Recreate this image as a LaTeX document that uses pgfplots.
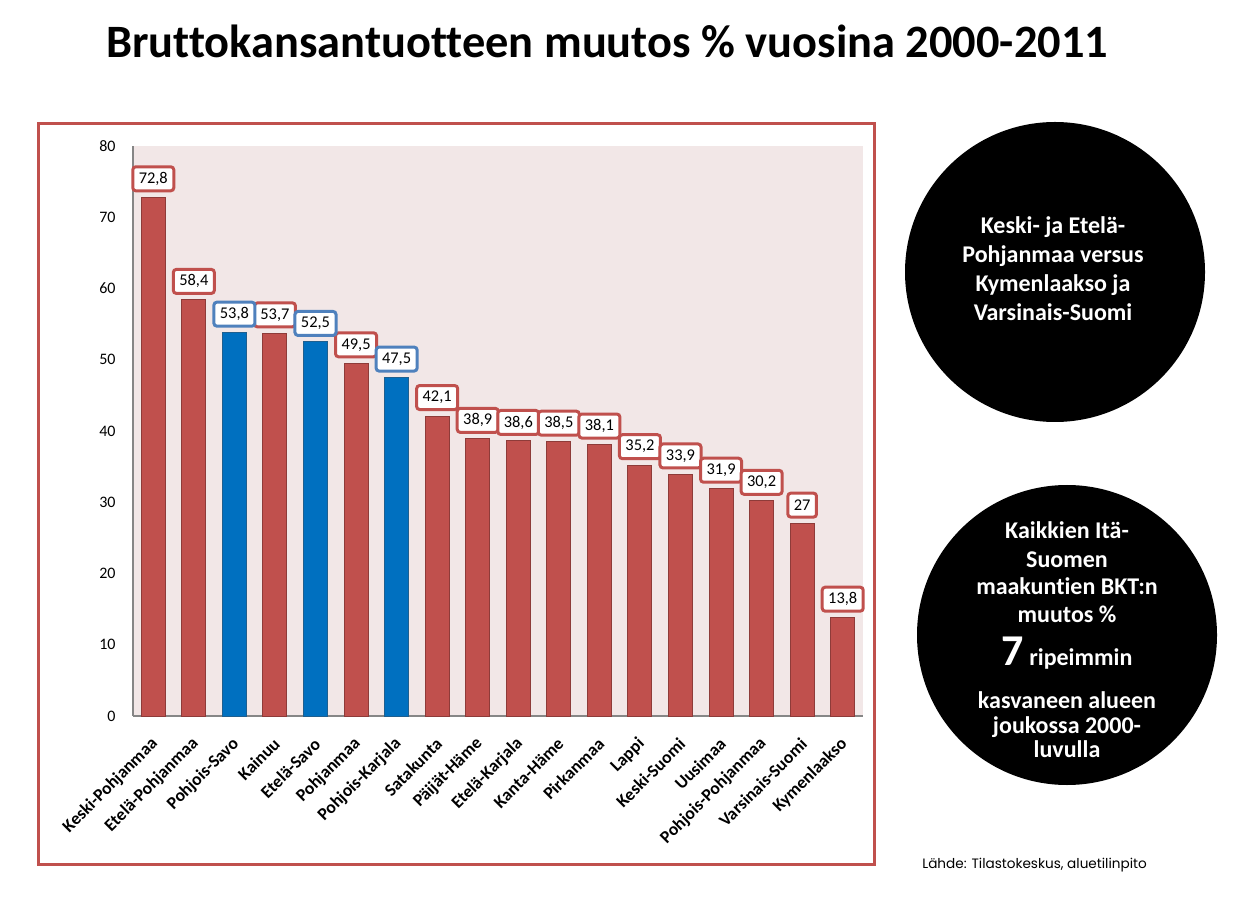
\documentclass[border=0pt]{standalone}
\usepackage{fontspec}
\setmainfont{Carlito}[Ligatures=NoCommon]
\newfontfamily\srcfont{Poppins}[Ligatures=NoCommon]
\usepackage{pgfplots}
\pgfplotsset{compat=1.18}
\definecolor{barred}{HTML}{C0504D}
\definecolor{barredd}{HTML}{8E3B39}
\definecolor{barblue}{HTML}{0070C0}
\definecolor{barblued}{HTML}{1F5F8F}
\definecolor{lblblue}{HTML}{4F81BD}
\definecolor{plotbg}{HTML}{F2E7E7}
\definecolor{axgray}{HTML}{868686}
\begin{document}
\begin{tikzpicture}
\begin{axis}[
  at={(66.5pt,100pt)}, anchor=south west,
  scale only axis, width=365pt, height=285pt,
  xmin=-0.5, xmax=17.5, ymin=0, ymax=80,
  axis background/.style={fill=plotbg},
  axis lines=left,
  axis line style={-, draw=axgray, line width=1pt},
  ytick={0,10,...,80},
  xtick={0,...,17},
  xticklabels={Keski-Pohjanmaa,Etelä-Pohjanmaa,Pohjois-Savo,Kainuu,Etelä-Savo,Pohjanmaa,Pohjois-Karjala,Satakunta,Päijät-Häme,Etelä-Karjala,Kanta-Häme,Pirkanmaa,Lappi,Keski-Suomi,Uusimaa,Pohjois-Pohjanmaa,Varsinais-Suomi,Kymenlaakso},
  major tick length=0pt,
  /pgf/number format/assume math mode=true,
  /pgf/number format/use comma,
  yticklabel style={font=\fontsize{8}{9.6}\selectfont, anchor=east, inner sep=0pt, xshift=-8.5pt},
  xticklabel style={font=\bfseries\fontsize{8.8}{10.5}\selectfont, inner sep=0pt, xshift=1pt, yshift=-12.5pt, rotate=45, anchor=east},
  ybar, bar width=12pt, bar shift=0pt,
  nodes near coords,
  every node near coord/.style={font=\fontsize{8.2}{9.8}\selectfont, fill=white, line width=1.5pt, rounded corners=1.5pt, inner xsep=3pt, inner ysep=0pt, minimum height=12pt, anchor=south, yshift=2.5pt, text=black},
]
\addplot[fill=barred, draw=barredd, line width=0.5pt, every node near coord/.append style={draw=barred}] coordinates {
 (0,72.8) (1,58.4) (3,53.7) (5,49.5) (7,42.1) (8,38.9) (9,38.6) (10,38.5) (11,38.1) (12,35.2) (13,33.9) (14,31.9) (15,30.2) (16,27) (17,13.8)};
\addplot[fill=barblue, draw=barblued, line width=0.5pt, every node near coord/.append style={draw=lblblue}] coordinates {
 (2,53.8) (4,52.5) (6,47.5)};
\end{axis}
\begin{scope}[shift={(0pt,458pt)}, x=0.5pt, y=-0.5pt]
  \node[anchor=base, font=\bfseries\fontsize{23.2}{27}\selectfont] at (607,58) {Bruttokansantuotteen muutos \% vuosina 2000-2011};
  \draw[barred, line width=1.5pt] (38,124) rectangle (874,864);
  \fill[black] (1055,272) circle[radius=75pt];
  \begin{scope}[every node/.style={anchor=base, text=white, font=\bfseries\fontsize{12}{14}\selectfont}]
    \node at (1053,234) {Keski- ja Etelä-};
    \node at (1053,263) {Pohjanmaa versus};
    \node at (1053,292) {Kymenlaakso ja};
    \node at (1053,321) {Varsinais-Suomi};
  \end{scope}
  \fill[black] (1067,635) circle[radius=75pt];
  \begin{scope}[every node/.style={anchor=base, text=white, font=\bfseries\fontsize{12}{14}\selectfont}]
    \node at (1067,538) {Kaikkien Itä-};
    \node at (1067,567) {Suomen};
    \node at (1067,594) {maakuntien BKT:n};
    \node at (1067,622) {muutos \%};
    \node at (1067,665) {{\fontsize{22}{24}\selectfont 7} ripeimmin};
    \node at (1067,708) {kasvaneen alueen};
    \node at (1067,733) {joukossa 2000-};
    \node at (1067,757) {luvulla};
  \end{scope}
  \node[anchor=base west, inner sep=0pt, font=\srcfont\fontsize{6.8}{8}\selectfont] at (922,868) {Lähde: Tilastokeskus, aluetilinpito};
\end{scope}
\pgfresetboundingbox
\path (0,0) rectangle (617.5pt,458pt);
\end{tikzpicture}
\end{document}
